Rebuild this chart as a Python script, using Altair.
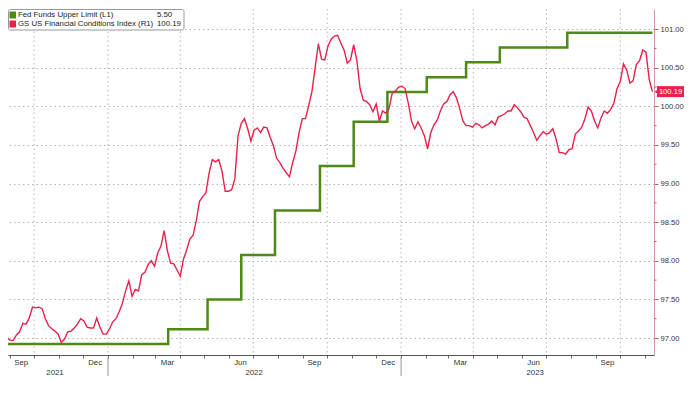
import altair as alt
import pandas as pd

# ---------------- data ----------------
FCI_START = "2021-08-20"          # first observation, one reading every 4 days
fci_values = [
    97.12, 97.06, 97.01, 96.97, 96.97, 97.04, 97.08, 97.19, 97.18, 97.26,
    97.40, 97.39, 97.40, 97.38, 97.25, 97.16, 97.12, 97.09, 97.05, 96.94,
    96.99, 97.08, 97.09, 97.13, 97.18, 97.25, 97.22, 97.14, 97.13, 97.13,
    97.26, 97.14, 97.05, 97.05, 97.12, 97.21, 97.25, 97.34, 97.45, 97.61,
    97.74, 97.54, 97.63, 97.61, 97.82, 97.85, 97.95, 98.00, 97.93, 98.10,
    98.19, 98.39, 98.13, 97.97, 97.96, 97.88, 97.80, 98.02, 98.14, 98.28,
    98.33, 98.52, 98.77, 98.83, 98.88, 99.14, 99.31, 99.28, 99.31, 99.16,
    98.90, 98.90, 98.92, 99.06, 99.62, 99.78, 99.84, 99.71, 99.55, 99.69,
    99.72, 99.66, 99.73, 99.72, 99.60, 99.49, 99.33, 99.27, 99.20, 99.14,
    99.09, 99.27, 99.42, 99.66, 99.84, 99.84, 100.01, 100.19, 100.50, 100.81,
    100.61, 100.60, 100.78, 100.87, 100.91, 100.92, 100.82, 100.73, 100.56, 100.60,
    100.80, 100.59, 100.23, 100.08, 100.06, 100.02, 99.93, 100.03, 99.81, 99.94,
    99.91, 99.97, 100.17, 100.20, 100.25, 100.26, 100.23, 100.04, 99.81, 99.71,
    99.80, 99.72, 99.62, 99.45, 99.66, 99.76, 99.82, 99.94, 100.03, 100.06,
    100.15, 100.19, 100.11, 99.97, 99.81, 99.75, 99.75, 99.73, 99.78, 99.76,
    99.72, 99.75, 99.77, 99.81, 99.76, 99.86, 99.88, 99.90, 99.94, 99.94,
    100.02, 99.98, 99.93, 99.86, 99.84, 99.75, 99.66, 99.56, 99.62, 99.67,
    99.64, 99.66, 99.71, 99.58, 99.40, 99.40, 99.38, 99.44, 99.45, 99.64,
    99.68, 99.73, 99.84, 99.99, 99.94, 99.81, 99.72, 99.85, 99.94, 99.91,
    99.96, 100.04, 100.23, 100.32, 100.55, 100.47, 100.30, 100.33, 100.54, 100.59,
    100.73, 100.70, 100.35, 100.19,
]

fed_dates = ["2021-08-20", "2022-03-17", "2022-05-05", "2022-06-16", "2022-07-28",
             "2022-09-22", "2022-11-03", "2022-12-15", "2023-02-02", "2023-03-23",
             "2023-05-04", "2023-07-27", "2023-11-10"]
fed_values = [0.25, 0.50, 1.00, 1.75, 2.50, 3.25, 4.00, 4.50, 4.75, 5.00, 5.25, 5.50, 5.50]

month_label_dates = ["2021-09-15", "2021-12-16", "2022-03-16", "2022-06-15", "2022-09-15",
                     "2022-12-16", "2023-03-16", "2023-06-15", "2023-09-15"]
month_label_text = ["Sep", "Dec", "Mar", "Jun", "Sep", "Dec", "Mar", "Jun", "Sep"]
year_label_dates = ["2021-10-27", "2022-07-02", "2023-06-17"]
year_label_text = ["2021", "2022", "2023"]
year_break_dates = ["2022-01-01", "2023-01-01"]
grid_dates = ["2021-10-01", "2022-01-01", "2022-04-01", "2022-07-01", "2022-10-01",
              "2023-01-01", "2023-04-01", "2023-07-01", "2023-10-01"]
red_ticks = [97.0, 97.5, 98.0, 98.5, 99.0, 99.5, 100.0, 100.5, 101.0]
red_minor = [97.25, 97.75, 98.25, 98.75, 99.25, 99.75, 100.25, 100.75]

series_names = ["Fed Funds Upper Limit (L1)", "GS US Financial Conditions Index (R1)"]
GREEN = "#4e8a14"
RED = "#e8224d"

# ---------------- tables ----------------
fci_df = pd.DataFrame({"date": pd.date_range(FCI_START, periods=len(fci_values), freq="4D"),
                       "fci": fci_values})
fed_df = pd.DataFrame({"date": pd.to_datetime(fed_dates), "rate": fed_values})
month_df = pd.DataFrame({"date": pd.to_datetime(month_label_dates), "label": month_label_text})
year_df = pd.DataFrame({"date": pd.to_datetime(year_label_dates), "label": year_label_text})
break_df = pd.DataFrame({"date": pd.to_datetime(year_break_dates)})
grid_df = pd.DataFrame({"date": pd.to_datetime(grid_dates)})
minor_df = pd.DataFrame({"v": red_minor})
last_df = pd.DataFrame({"v": [fci_values[-1]], "t": [f"{fci_values[-1]:.2f}"]})

W, H = 646, 346
FONT = "Liberation Sans"
FS = 7.8
AFS = 7.6

month_ticks = pd.date_range("2021-09-01", "2023-11-01", freq="MS")
xscale = alt.Scale(domain=[alt.DateTime(year=2021, month=8, date=29, hours=12),
                           alt.DateTime(year=2023, month=11, date=12)])
xaxis = alt.Axis(values=[alt.DateTime(year=d.year, month=d.month, date=1) for d in month_ticks],
                 labels=False, grid=False, ticks=True, tickSize=3, tickColor="#666",
                 domainColor="#555", title=None)


def X(field):
    return alt.X(f"{field}:T", scale=xscale, axis=xaxis)


red_scale = alt.Scale(domain=[96.780, 101.26], nice=False, zero=False)
green_scale = alt.Scale(domain=[0.064, 5.90], nice=False, zero=False)

vgrid = alt.Chart(grid_df).mark_rule(color="#b4b4b4", strokeDash=[1.5, 3], strokeWidth=1).encode(
    x=X("date"), y=alt.value(0), y2=alt.value(H))

green = alt.Chart(fed_df).mark_line(interpolate="step-after", color=GREEN, strokeWidth=2.5,
                                    clip=True).encode(
    x=X("date"), y=alt.Y("rate:Q", scale=green_scale, axis=None))

red = alt.Chart(fci_df).mark_line(color=RED, strokeWidth=1.4, clip=True).encode(
    x=X("date"),
    y=alt.Y("fci:Q", scale=red_scale,
            axis=alt.Axis(orient="right", values=red_ticks, format=".2f", grid=True,
                          gridDash=[1.5, 3], gridColor="#b4b4b4", tickSize=4, tickColor="#b06070",
                          domainColor="#d395a5", labelFontSize=AFS, labelColor="#333",
                          labelFont=FONT, labelPadding=2, title=None)))

minor = alt.Chart(minor_df).mark_rule(color="#b06070").encode(
    y=alt.Y("v:Q", scale=red_scale, axis=None), x=alt.value(W), x2=alt.value(W + 2.5))

last_box = alt.Chart(last_df).mark_rule(color=RED, strokeWidth=11, strokeCap="butt").encode(
    y=alt.Y("v:Q", scale=red_scale, axis=None), x=alt.value(W + 3), x2=alt.value(W + 30))
last_tri = alt.Chart(last_df).mark_point(shape="triangle-left", filled=True, color=RED, size=25,
                                         opacity=1).encode(
    y=alt.Y("v:Q", scale=red_scale, axis=None), x=alt.value(W + 2.5))
last_txt = alt.Chart(last_df).mark_text(color="white", fontSize=AFS, font=FONT, align="center",
                                        baseline="middle").encode(
    y=alt.Y("v:Q", scale=red_scale, axis=None), x=alt.value(W + 16.5), text="t:N")

months = alt.Chart(month_df).mark_text(fontSize=FS, font=FONT, color="#333", baseline="middle").encode(
    x=X("date"), y=alt.value(H + 8), text="label:N")
years = alt.Chart(year_df).mark_text(fontSize=FS, font=FONT, color="#333", baseline="middle").encode(
    x=X("date"), y=alt.value(H + 18), text="label:N")
breaks = alt.Chart(break_df).mark_rule(color="#999").encode(
    x=X("date"), y=alt.value(H + 2), y2=alt.value(H + 21))

one = pd.DataFrame({"a": [0]})
legend_layers = [
    alt.Chart(one).mark_rect(fill="white", stroke="#999", strokeWidth=1, cornerRadius=2).encode(
        x=alt.value(0.5), x2=alt.value(176), y=alt.value(0.5), y2=alt.value(21))
]
leg_vals = [f"{fed_values[-1]:.2f}", f"{fci_values[-1]:.2f}"]
for i, (name, val, col) in enumerate(zip(series_names, leg_vals, [GREEN, RED])):
    yc = 6 + 9 * i
    df = pd.DataFrame({"name": [name], "val": [val]})
    legend_layers.append(alt.Chart(df).mark_rect(color=col).encode(
        x=alt.value(1.5), x2=alt.value(8), y=alt.value(yc - 3.5), y2=alt.value(yc + 3.5)))
    legend_layers.append(alt.Chart(df).mark_text(align="left", baseline="middle", fontSize=FS,
                                                 font=FONT, color="#222").encode(
        x=alt.value(10), y=alt.value(yc), text="name:N"))
    legend_layers.append(alt.Chart(df).mark_text(align="left", baseline="middle", fontSize=FS,
                                                 font=FONT, color="#222").encode(
        x=alt.value(149), y=alt.value(yc), text="val:N"))

chart = alt.layer(
    vgrid, green, red, minor, last_box, last_tri, last_txt, months, years, breaks, *legend_layers
).resolve_scale(y="independent").properties(
    width=W, height=H, padding=0, background="white"
).configure_view(strokeWidth=0)

chart.save("out.html", embed_options={"renderer": "svg", "actions": False})
